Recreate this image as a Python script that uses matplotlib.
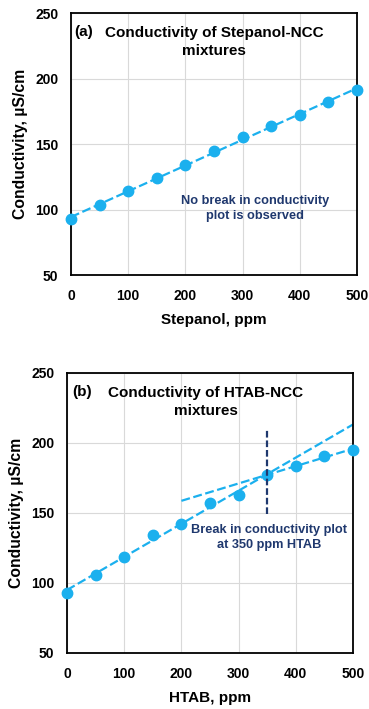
#!/usr/bin/env python3
"""Conductivity of surfactant-NCC mixtures, two stacked panels."""

import matplotlib
matplotlib.use("Agg")
import matplotlib.pyplot as plt
import numpy as np

ppm = [0, 50, 100, 150, 200, 250, 300, 350, 400, 450, 500]
stepanol_cond = [92.5, 103.7, 114.4, 123.8, 133.7, 144.9, 155.6, 163.7, 172.4, 182.0, 191.0]
htab_cond = [92.9, 106.0, 118.8, 134.5, 142.4, 156.9, 162.6, 176.9, 183.6, 190.7, 195.2]
break_ppm = 350

BLUE = "#1BB0EE"
NAVY = "#1F386E"
DASH = (0, (4, 1.6))

plt.rcParams["font.family"] = ["Liberation Sans", "DejaVu Sans"]
plt.rcParams["font.weight"] = "bold"


def _style(ax, xlabel):
    ax.set_xlim(0, 500)
    ax.set_ylim(50, 250)
    ax.set_xticks(range(0, 501, 100))
    ax.set_yticks(range(50, 251, 50))
    ax.grid(True, color="#D9D9D9", linewidth=0.8)
    ax.set_axisbelow(True)
    ax.tick_params(axis="x", length=0, labelsize=10, pad=10)
    ax.tick_params(axis="y", length=0, labelsize=10, pad=9)
    for lab in ax.get_xticklabels() + ax.get_yticklabels():
        lab.set_fontweight("bold")
    for sp in ax.spines.values():
        sp.set_linewidth(1.3)
        sp.set_color("black")
    ax.set_xlabel(xlabel, fontsize=11, fontweight="bold", labelpad=7)
    ax.set_ylabel("Conductivity, µS/cm", fontsize=11.3, fontweight="bold", labelpad=5)


def _fit(x, y):
    slope, intercept = np.polyfit(x, y, 1)
    return slope, intercept


fig = plt.figure(figsize=(3.69, 7.09), dpi=100)

# (a) Stepanol
ax1 = fig.add_axes([71 / 369, 1 - 275 / 709, 286 / 369, 262 / 709])
s, b = _fit(ppm, stepanol_cond)
xs = np.array([0, 500])
ax1.plot(xs, s * xs + b, color=BLUE, linestyle=DASH, linewidth=1.6, zorder=2)
ax1.plot(ppm, stepanol_cond, "o", color=BLUE, markersize=7.5, zorder=3, clip_on=False)
ax1.text(5, 235.5, "(a)", fontsize=11, fontweight="bold", va="center")
ax1.text(250, 228, "Conductivity of Stepanol-NCC\nmixtures", fontsize=11,
         fontweight="bold", ha="center", va="center", linespacing=1.4)
ax1.text(322, 101, "No break in conductivity\nplot is observed", fontsize=9.2,
         fontweight="bold", color=NAVY, ha="center", va="center", linespacing=1.3)
_style(ax1, "Stepanol, ppm")

# (b) HTAB
ax2 = fig.add_axes([67 / 369, 1 - 653 / 709, 286 / 369, 280 / 709])
n_low = ppm.index(break_ppm) + 1
s1, b1 = _fit(ppm[:n_low], htab_cond[:n_low])
s2, b2 = _fit(ppm[n_low - 1:], htab_cond[n_low - 1:])
ax2.plot(xs, s1 * xs + b1, color=BLUE, linestyle=DASH, linewidth=1.6, zorder=2)
xs2 = np.array([200, 500])
ax2.plot(xs2, s2 * xs2 + b2, color=BLUE, linestyle=DASH, linewidth=1.6, zorder=2)
ax2.plot(ppm, htab_cond, "o", color=BLUE, markersize=7.5, zorder=3, clip_on=False)
ax2.plot([break_ppm, break_ppm], [149.5, 211], color=NAVY, linestyle=(0, (3, 1.3)),
         linewidth=1.6, zorder=4)
ax2.text(10, 236.6, "(b)", fontsize=11, fontweight="bold", va="center")
ax2.text(243, 229.5, "Conductivity of HTAB-NCC\nmixtures", fontsize=11,
         fontweight="bold", ha="center", va="center", linespacing=1.4)
ax2.text(353, 132.4, "Break in conductivity plot\nat 350 ppm HTAB", fontsize=9.2,
         fontweight="bold", color=NAVY, ha="center", va="center", linespacing=1.3)
_style(ax2, "HTAB, ppm")

fig.savefig("out.png", dpi=100)
